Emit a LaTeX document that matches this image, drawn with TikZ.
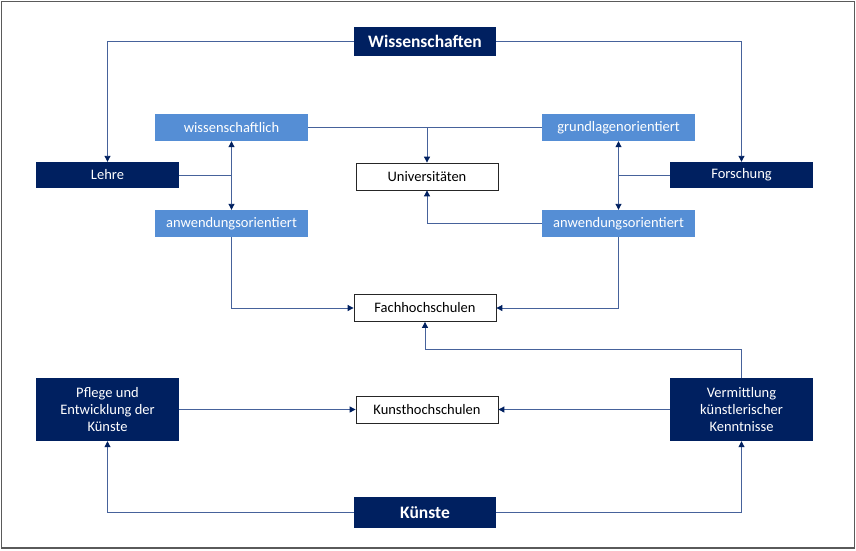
\documentclass[tikz,border=0pt]{standalone}
\usepackage{fontspec}
\setmainfont{Carlito}
\usetikzlibrary{arrows.meta,calc}
\definecolor{navy}{RGB}{0,32,96}
\definecolor{lblue}{RGB}{85,142,213}
\definecolor{lcol}{RGB}{70,98,155}
\definecolor{frame}{RGB}{90,90,90}
\tikzset{
  darkbox/.style={fill=navy, text=white, inner sep=0pt, align=center, font=\fontsize{14.5}{17}\selectfont, minimum width=143pt},
  headbox/.style={fill=navy, text=white, inner sep=0pt, font=\fontsize{17.5}{20}\selectfont\bfseries, minimum width=142pt},
  lightbox/.style={fill=lblue, text=white, inner sep=0pt, font=\fontsize{14.5}{17}\selectfont, minimum width=153pt, minimum height=27pt},
  whitebox/.style={draw=black!85, line width=0.8pt, fill=white, inner sep=0pt, font=\fontsize{14.5}{17}\selectfont, minimum width=142pt, minimum height=27pt},
  conn/.style={draw=lcol, line width=0.9pt, -{Triangle[length=6pt,width=6pt,fill=navy,color=navy]}},
  plain/.style={draw=lcol, line width=0.9pt},
}
\begin{document}
\begin{tikzpicture}[x=1pt,y=-1pt]
\useasboundingbox (0,0) rectangle (856,550);
\draw[frame, line width=1.5pt] (1.5,1.5) rectangle (854.5,548);
% nodes
\node[headbox, minimum height=29pt] (wiss) at (425,41.5) {Wissenschaften};
\node[darkbox, minimum height=26pt] (lehre) at (107.5,175) {Lehre};
\node[darkbox, minimum height=26pt] (forsch) at (741.5,175) {Forschung};
\node[lightbox] (wl) at (231.5,127.5) {wissenschaftlich};
\node[lightbox] (awl) at (231.5,223.5) {anwendungsorientiert};
\node[lightbox] (gl) at (618.5,127.5) {grundlagenorientiert};
\node[lightbox] (awr) at (618.5,223.5) {anwendungsorientiert};
\node[whitebox] (uni) at (427,176.5) {Universitäten};
\node[whitebox] (fh) at (425,308) {Fachhochschulen};
\node[whitebox] (kh) at (427,409.5) {Kunsthochschulen};
\node[darkbox, minimum height=63pt] (pfl) at (107.5,409.5) {Pflege und\\Entwicklung der\\Künste};
\node[darkbox, minimum height=63pt] (verm) at (741.5,409.5) {Vermittlung\\künstlerischer\\Kenntnisse};
\node[headbox, minimum height=31pt] (kue) at (425,512.5) {Künste};
% connectors
\draw[conn] (wiss.west) -| (lehre.north);
\draw[conn] (wiss.east) -| (forsch.north);
\draw[conn] (wl.east) -| (uni.north);
\draw[plain] (gl.west) -- (gl.west -| uni.north);
\coordinate (lj) at (lehre.east -| wl.south);
\coordinate (fj) at (forsch.west -| gl.south);
\draw[plain] (lehre.east) -- (lj);
\draw[conn] (lj) -- (wl.south);
\draw[conn] (lj) -- (awl.north);
\draw[plain] (forsch.west) -- (fj);
\draw[conn] (fj) -- (gl.south);
\draw[conn] (fj) -- (awr.north);
\draw[conn] (awr.west) -| (uni.south);
\draw[conn] (awl.south) |- (fh.west);
\draw[conn] (awr.south) |- (fh.east);
\coordinate (vk) at ($(verm.north)+(0,-28)$);
\draw[conn] (verm.north) -- (vk) -| (fh.south);
\draw[conn] (pfl.east) -- (kh.west);
\draw[conn] (verm.west) -- (kh.east);
\draw[conn] (kue.west) -| (pfl.south);
\draw[conn] (kue.east) -| (verm.south);
\end{tikzpicture}
\end{document}
